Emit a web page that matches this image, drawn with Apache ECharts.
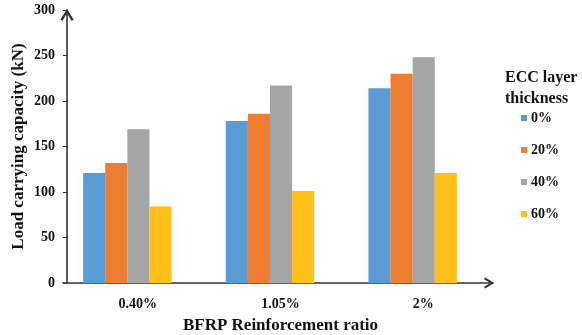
<!DOCTYPE html>
<html>
<head>
<meta charset="utf-8">
<script src="https://cdn.jsdelivr.net/npm/echarts@6/dist/echarts.min.js"></script>
<style>
  html, body { margin: 0; padding: 0; background: #ffffff; }
  #chart { width: 582px; height: 335px; }
</style>
</head>
<body>
<div id="chart"></div>
<script>
// BFRP reinforcement ratios on the x axis
var categories = ['0.40%', '1.05%', '2%'];
// Load carrying capacity (kN) for each ECC layer thickness
var ecc0 = [121, 178, 214];
var ecc20 = [132, 186, 230];
var ecc40 = [169, 217, 248];
var ecc60 = [84, 101, 121];
var seriesNames = ['0%', '20%', '40%', '60%'];
var yTicks = [0, 300, 50]; // min, max, step

var serif = '"Liberation Serif", "Times New Roman", serif';
var axisColor = '#333333';
var textColor = '#111111';
// open chevron arrow head (points up before axis rotation)
var chevron = 'path://M0,11 L7,0 L14,11 L11.8,12.6 L7,4.4 L2.2,12.6 Z';

var chart = echarts.init(document.getElementById('chart'), null, { renderer: 'canvas' });

var colors = ['#5B9BD5', '#ED7D31', '#A5A5A5', '#FDBF1A'];
var values = [ecc0, ecc20, ecc40, ecc60];

chart.setOption({
  animation: false,
  backgroundColor: '#ffffff',
  color: colors,
  textStyle: { fontFamily: serif },
  title: {
    text: 'ECC layer\nthickness',
    left: 505,
    top: 67,
    padding: 0,
    textStyle: { fontFamily: serif, fontSize: 16, fontWeight: 'bold', color: textColor, lineHeight: 21 }
  },
  legend: {
    orient: 'vertical',
    left: 521,
    top: 111,
    padding: 0,
    itemWidth: 6,
    itemHeight: 6,
    itemGap: 18,
    icon: 'rect',
    data: seriesNames,
    textStyle: { fontFamily: serif, fontSize: 14, fontWeight: 'bold', color: textColor, padding: [0, 0, 0, -1] }
  },
  grid: [
    // plotting area holding the bar groups
    { left: 56, right: 98, top: 10, bottom: 52, containLabel: false, outerBoundsMode: 'none' },
    // frame carrying the horizontal axis line with its arrow
    { left: 63, right: 89, top: 10, bottom: 52, containLabel: false, outerBoundsMode: 'none' }
  ],
  xAxis: [
    {
      type: 'category',
      gridIndex: 0,
      data: categories,
      name: 'BFRP Reinforcement ratio',
      nameLocation: 'middle',
      nameGap: 34,
      nameMoveOverlap: false,
      nameTextStyle: { fontFamily: serif, fontSize: 17, fontWeight: 'bold', color: textColor, padding: [0, 0, 0, 21] },
      axisLine: { show: false },
      axisTick: { show: false },
      axisLabel: { margin: 14, fontFamily: serif, fontSize: 14, fontWeight: 'bold', color: textColor, padding: [0, 0, 0, 21] }
    },
    {
      type: 'value',
      gridIndex: 1,
      min: 0,
      max: 1,
      axisLine: {
        show: true,
        lineStyle: { color: axisColor, width: 1.6 },
        symbol: ['none', chevron],
        symbolSize: [12, 10],
        symbolOffset: [0, -4]
      },
      axisTick: { show: false },
      axisLabel: { show: false },
      splitLine: { show: false }
    }
  ],
  yAxis: [
    {
      type: 'value',
      gridIndex: 0,
      min: yTicks[0],
      max: yTicks[1],
      interval: yTicks[2],
      offset: -11,
      name: 'Load carrying capacity (kN)',
      nameLocation: 'middle',
      nameGap: 40,
      nameMoveOverlap: false,
      nameRotate: 90,
      nameTextStyle: { fontFamily: serif, fontSize: 17, fontWeight: 'bold', color: textColor },
      axisLine: {
        show: true,
        lineStyle: { color: axisColor, width: 1.6 },
        symbol: ['none', chevron],
        symbolSize: [14, 12],
        symbolOffset: [0, -5]
      },
      axisTick: { show: true, inside: false, length: 4, lineStyle: { color: axisColor, width: 1 } },
      splitLine: { show: false },
      axisLabel: { margin: 12, fontFamily: serif, fontSize: 14, fontWeight: 'bold', color: textColor }
    },
    {
      type: 'value',
      gridIndex: 1,
      min: 0,
      max: 1,
      show: false
    }
  ],
  series: seriesNames.map(function (name, i) {
    return {
      name: name,
      type: 'bar',
      xAxisIndex: 0,
      yAxisIndex: 0,
      data: values[i],
      barGap: '0%',
      barCategoryGap: '38%',
      itemStyle: { color: colors[i] }
    };
  })
});
</script>
</body>
</html>
